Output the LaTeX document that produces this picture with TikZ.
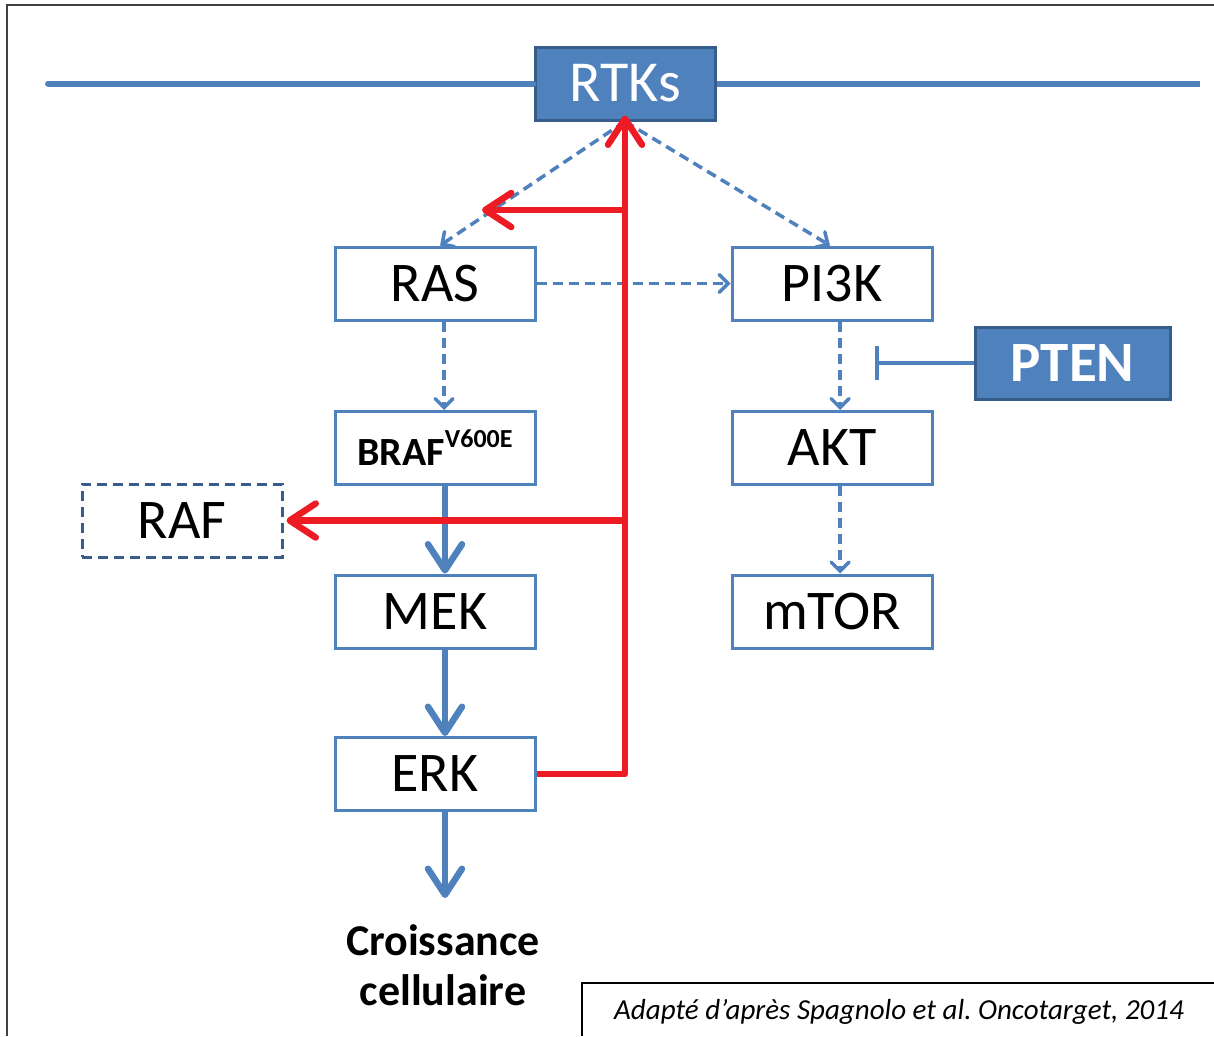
\documentclass[tikz,border=0pt]{standalone}
\usepackage{fontspec}
\setmainfont{Carlito}
\usetikzlibrary{arrows.meta}

\definecolor{pathblue}{RGB}{79,129,189}
\definecolor{darkblue}{RGB}{56,93,138}
\definecolor{pathred}{RGB}{237,28,36}

\tikzset{
  protein/.style={rectangle,draw=pathblue,line width=3pt,fill=white,minimum width=200pt,minimum height=73pt,font=\fontsize{56}{56}\selectfont},
  filledbox/.style={rectangle,draw=darkblue,line width=3pt,fill=pathblue,text=white},
  weak/.style={draw=pathblue,line width=3.5pt,dash pattern=on 10pt off 6pt,-{Straight Barb[length=9pt,width=18pt,line cap=round]}},
  strong/.style={draw=pathblue,line width=6.5pt,-{Straight Barb[length=26pt,width=34pt,line cap=round,line join=round]}},
  feedback/.style={draw=pathred,line width=6.5pt,line join=round,-{Straight Barb[length=26pt,width=34pt,line cap=round,line join=round]}}
}

\begin{document}
\begin{tikzpicture}[x=1pt,y=-1pt]
\useasboundingbox (0,0) rectangle (1214,1036);

% frame
\draw[line width=1.5pt,black!75] (7,1036) -- (7,5) -- (1214,5);

% RTKs node on the membrane
\node[filledbox,minimum width=180pt,minimum height=73pt,font=\fontsize{58}{58}\selectfont] (rtks) at (625,83.5) {RTKs};
\coordinate (mem left) at (48,83.5);
\coordinate (mem right) at (1200,83.5);
\draw[pathblue,line width=6pt,line cap=round] (mem left) -- (rtks.west);
\draw[pathblue,line width=6pt] (rtks.east) -- (mem right);

% MAPK branch nodes
\node[protein] (ras) at (435,283.5) {RAS};
\node[protein,font=\fontsize{40}{40}\selectfont\bfseries] (braf) at (435,448) {BRAF\raisebox{0.45em}{\fontsize{26}{26}\selectfont V600E}};
\node[protein] (mek) at (435,611.5) {MEK};
\node[protein] (erk) at (435,774) {ERK};
\node[protein,draw=darkblue,dash pattern=on 10pt off 6pt] (raf) at (182,520.5) {RAF};

% PI3K branch nodes
\node[protein] (pi3k) at (832,283.5) {PI3K};
\node[protein] (akt) at (832,448) {AKT};
\node[protein] (mtor) at (832,611.5) {mTOR};

% PTEN node
\node[filledbox,minimum width=195pt,minimum height=72pt,font=\fontsize{57}{57}\selectfont\bfseries] (pten) at (1072.5,363) {PTEN};
\coordinate (pten bar) at (875,363);

% output node
\node[font=\fontsize{44}{50}\selectfont\bfseries,align=center] (growth) at (443,965) {Croissance\\cellulaire};
\coordinate (growth top) at (445,898);

% dashed activations
\draw[weak] (rtks.south) -- ([xshift=5pt]ras.north);
\draw[weak] (rtks.south) -- ([xshift=-2pt]pi3k.north);
\draw[weak] (ras.east) -- (pi3k.west);
\draw[weak] ([xshift=9pt]ras.south) -- ([xshift=9pt]braf.north);
\draw[weak] ([xshift=8pt]pi3k.south) -- ([xshift=8pt]akt.north);
\draw[weak] ([xshift=8pt]akt.south) -- ([xshift=8pt]mtor.north);

% PTEN inhibition
\draw[pathblue,line width=3.5pt,-{Bar[width=34pt]}] (pten.west) -- (pten bar);

% solid cascade
\draw[strong] ([xshift=10pt]braf.south) -- ([xshift=10pt]mek.north);
\draw[strong] ([xshift=10pt]mek.south) -- ([xshift=10pt]erk.north);
\draw[strong] ([xshift=10pt]erk.south) -- (growth top);

% ERK feedback
\coordinate (corner) at (625,774);
\coordinate (fork top) at (625,210);
\coordinate (fork raf) at (625,520.5);
\coordinate (ras tip) at (482,210);
\draw[feedback] (erk.east) -- (corner) -- ([yshift=6pt]rtks.south);
\draw[feedback] (fork top) -- (ras tip);
\draw[feedback] (fork raf) -- ([xshift=3pt]raf.east);

% source
\draw[line width=1.5pt] (582,1036) -- (582,983) -- (1214,983);
\node[font=\fontsize{29}{29}\selectfont\itshape] (source) at (899,1012) {Adapté d’après Spagnolo et al.\ Oncotarget, 2014};

\end{tikzpicture}
\end{document}
